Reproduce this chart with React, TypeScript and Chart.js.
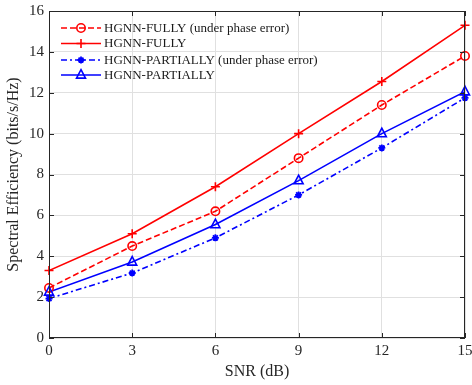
import React, { useEffect, useRef } from "react";
import { Chart, registerables } from "chart.js";

Chart.register(...registerables);

const snr = [0, 3, 6, 9, 12, 15];
const fullyPhaseErr = [2.45, 4.5, 6.2, 8.8, 11.4, 13.8];
const fully = [3.3, 5.1, 7.4, 10.0, 12.55, 15.3];
const partiallyPhaseErr = [1.93, 3.18, 4.9, 7.0, 9.3, 11.75];
const partially = [2.25, 3.72, 5.55, 7.7, 10.0, 12.05];

const legendLabels = [
  "HGNN-FULLY (under phase error)",
  "HGNN-FULLY",
  "HGNN-PARTIALLY (under phase error)",
  "HGNN-PARTIALLY",
];

const RED = "#ff0000";
const BLUE = "#0000ff";
const FONT = "'Liberation Serif', 'Times New Roman', serif";

function drawMarker(ctx: CanvasRenderingContext2D, style: string, x: number, y: number, r: number, color: string) {
  ctx.save();
  ctx.strokeStyle = color;
  ctx.fillStyle = color;
  ctx.setLineDash([]);
  ctx.lineWidth = 1.6;
  ctx.beginPath();
  if (style === "circle") {
    ctx.arc(x, y, r, 0, Math.PI * 2);
    ctx.stroke();
  } else if (style === "cross") {
    ctx.moveTo(x - r, y); ctx.lineTo(x + r, y);
    ctx.moveTo(x, y - r); ctx.lineTo(x, y + r);
    ctx.stroke();
  } else if (style === "triangle") {
    const h = r;
    ctx.moveTo(x, y - h * 1.2);
    ctx.lineTo(x + h, y + h * 0.7);
    ctx.lineTo(x - h, y + h * 0.7);
    ctx.closePath();
    ctx.stroke();
  } else if (style === "star") {
    for (let i = 0; i < 4; i++) {
      const a = (i * Math.PI) / 4;
      ctx.moveTo(x - r * Math.cos(a), y - r * Math.sin(a));
      ctx.lineTo(x + r * Math.cos(a), y + r * Math.sin(a));
    }
    ctx.lineWidth = 1.8;
    ctx.stroke();
  }
  ctx.restore();
}

const frameAndTicks = {
  id: "frameAndTicks",
  afterDraw(chart: any) {
    const { ctx, chartArea: a, scales } = chart;
    ctx.save();
    ctx.strokeStyle = "#262626";
    ctx.lineWidth = 1;
    ctx.setLineDash([]);
    ctx.strokeRect(a.left + 0.5, a.top + 0.5, a.right - a.left - 1, a.bottom - a.top - 1);
    const L = 5;
    ctx.beginPath();
    scales.x.ticks.forEach((t: any) => {
      const px = Math.round(scales.x.getPixelForValue(t.value)) + 0.5;
      ctx.moveTo(px, a.bottom); ctx.lineTo(px, a.bottom - L);
      ctx.moveTo(px, a.top); ctx.lineTo(px, a.top + L);
    });
    scales.y.ticks.forEach((t: any) => {
      const py = Math.round(scales.y.getPixelForValue(t.value)) + 0.5;
      ctx.moveTo(a.left, py); ctx.lineTo(a.left + L, py);
      ctx.moveTo(a.right, py); ctx.lineTo(a.right - L, py);
    });
    ctx.stroke();
    ctx.restore();
  },
};

const customLegend = {
  id: "customLegend",
  afterDraw(chart: any) {
    const { ctx, chartArea: a } = chart;
    const items = chart.data.datasets;
    ctx.save();
    ctx.font = `13px ${FONT}`;
    ctx.textBaseline = "middle";
    const x0 = a.left + 12;
    const x1 = a.left + 52;
    const y0 = a.top + 17;
    const rows = [0, 15.5, 32, 47];
    items.forEach((ds: any, i: number) => {
      const y = y0 + rows[i];
      ctx.strokeStyle = ds.borderColor;
      ctx.lineWidth = 1.6;
      ctx.setLineDash(ds.borderDash || []);
      ctx.beginPath();
      ctx.moveTo(x0, y);
      ctx.lineTo(x1, y);
      ctx.stroke();
      drawMarker(ctx, ds.marker, (x0 + x1) / 2, y, ds.markerSize, ds.borderColor);
      ctx.fillStyle = "#1a1a1a";
      ctx.fillText(ds.label, x1 + 3, y + 0.5);
    });
    ctx.restore();
  },
};

const markerPlugin = {
  id: "markers",
  afterDatasetsDraw(chart: any) {
    const { ctx } = chart;
    chart.data.datasets.forEach((ds: any, i: number) => {
      const meta = chart.getDatasetMeta(i);
      meta.data.forEach((pt: any) => {
        drawMarker(ctx, ds.marker, pt.x, pt.y, ds.markerSize, ds.borderColor);
      });
    });
  },
};

export default function App() {
  const ref = useRef<HTMLCanvasElement>(null);
  useEffect(() => {
    document.body.style.margin = "0";
    const mk = (label: string, data: number[], color: string, dash: number[], marker: string, size: number) => ({
      label,
      data: snr.map((x, i) => ({ x, y: data[i] })),
      borderColor: color,
      backgroundColor: color,
      borderWidth: 1.6,
      borderDash: dash,
      pointRadius: 0,
      pointHoverRadius: 0,
      marker,
      markerSize: size,
      showLine: true,
    });
    const chart = new Chart(ref.current!, {
      type: "scatter",
      data: {
        datasets: [
          mk(legendLabels[0], fullyPhaseErr, RED, [6, 3], "circle", 4.2),
          mk(legendLabels[1], fully, RED, [], "cross", 4.5),
          mk(legendLabels[2], partiallyPhaseErr, BLUE, [6, 3, 2, 3], "star", 3.5),
          mk(legendLabels[3], partially, BLUE, [], "triangle", 4.5),
        ] as any,
      },
      options: {
        animation: false,
        responsive: false,
        maintainAspectRatio: false,
        layout: { padding: { left: 0, top: 11, right: 7, bottom: 0 } },
        plugins: { legend: { display: false }, tooltip: { enabled: false } },
        scales: {
          x: {
            type: "linear",
            min: 0,
            max: 15,
            ticks: { stepSize: 3, color: "#262626", font: { family: FONT, size: 15 }, padding: 4 },
            grid: { color: "#e0e0e0", drawTicks: false },
            border: { display: false },
            title: { display: true, text: "SNR (dB)", color: "#262626", font: { family: FONT, size: 16 }, padding: { top: 0 } },
            afterFit: (s: any) => { s.height = 47; s.paddingRight = 0; s.paddingLeft = 0; },
          },
          y: {
            min: 0,
            max: 16,
            ticks: { stepSize: 2, color: "#262626", font: { family: FONT, size: 15 }, padding: 5 },
            grid: { color: "#e0e0e0", drawTicks: false },
            border: { display: false },
            title: { display: true, text: "Spectral Efficiency (bits/s/Hz)", color: "#262626", font: { family: FONT, size: 16 }, padding: { bottom: 2 } },
            afterFit: (s: any) => { s.width = 49; s.paddingTop = 0; s.paddingBottom = 0; },
          },
        },
      },
      plugins: [markerPlugin, frameAndTicks, customLegend],
    });
    return () => chart.destroy();
  }, []);
  return (
    <div style={{ width: 472, height: 385, background: "#fff" }}>
      <canvas ref={ref} width={472} height={385} style={{ width: 472, height: 385 }} />
    </div>
  );
}
